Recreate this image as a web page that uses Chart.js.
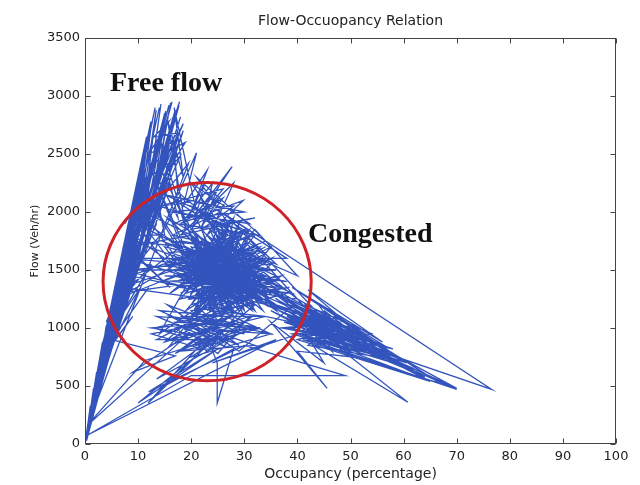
<!DOCTYPE html>
<html>
<head>
<meta charset="utf-8">
<title>Flow-Occupancy Relation</title>
<script src="https://cdn.jsdelivr.net/npm/chart.js@4/dist/chart.umd.min.js"></script>
<style>
  html, body { margin: 0; padding: 0; background: #fff; }
  #wrap { width: 640px; height: 485px; }
</style>
</head>
<body>
<div id="wrap"><canvas id="flowChart" width="640" height="485"></canvas></div>
<script>
// axis ticks
const occupancyTicks = [0, 10, 20, 30, 40, 50, 60, 70, 80, 90, 100];
const flowTicks = [0, 500, 1000, 1500, 2000, 2500, 3000, 3500];

// detector samples as [occupancy %, flow veh/hr], in time order
const morningFreeFlow = [
  [0,0],[0.4,110],[0.2,50],[1.0,280],[0.5,130],[1.8,460],[0.9,240],[2.6,700],[1.4,380],[3.3,880],
  [2.0,480],[2.9,760],[1.6,300],[4.0,1020],[2.6,560],[4.8,1180],[3.5,760],[5.6,1350],[4.2,900],[6.4,1520],
  [4.9,1050],[7.2,1700],[5.5,980],[8.1,1880],[6.1,1150],[9.0,2060],[6.7,1080],[9.9,2240],[7.3,1250],[10.8,2420],
  [7.9,1380],[11.7,2600],[8.5,1320],[12.5,2760],[9.2,1560],[13.4,2880],[9.8,1480],[14.3,2930],[10.5,1720],[15.2,2870],
  [11.2,1650],[16.1,2940],[11.9,1900],[16.9,2850],[12.6,2050],[17.7,2920],[13.3,2200],[18.5,2760],[14.0,2350],[16.5,2600],
  [12.0,2500],[15.8,2780],[13.0,2650],[17.4,2680],[14.5,2500],[18.9,2600],[15.5,2350],[17.9,2480],[14.8,2150],[19.5,2420]
];

const freeFlowSweeps = [
  [0.8,200],[13.2,2900],[2.5,450],[15.8,2920],[1.2,350],[11.0,2500],[3.6,620],[17.0,2880],[2.0,520],[9.0,2050],
  [4.6,750],[16.0,2600],[1.6,420],[12.4,2780],[3.8,800],[18.0,2820],[2.8,700],[10.5,2380],[5.2,850],[14.8,2450],
  [1.0,260],[14.0,2900],[4.2,900],[17.6,2650],[3.0,560],[12.0,2300],[5.8,950],[16.6,2800],[2.2,600],[10.0,2250],
  [6.2,1000],[18.5,2700],[3.4,880],[13.6,2600],[6.8,1100],[15.4,2300],[4.0,1000],[11.6,2650],[7.2,1150],[17.2,2500],
  [2.6,480],[8.8,1950],[5.0,1100],[16.4,2950],[3.2,780],[12.8,2450],[6.5,1200],[14.6,2700],[1.4,300],[9.6,2150],
  [7.5,1250],[15.0,2850],[4.8,1050],[13.0,2100],[8.0,1300],[11.4,2300],[5.6,1250],[17.8,2950],[3.7,900],[16.8,2550]
];

const breakdownOnset = [
  [17.5,2150],[21.0,2510],[18.5,2050],[23.0,2360],[19.8,1980],[22.5,2250],[20.5,1900],[27.7,2390],[21.5,2020],[24.9,2190],
  [22.0,1880],[26.0,2120],[18.0,1900],[29.8,2100],[23.0,1800],[25.5,2000],[16.5,1800],[24.0,1720],[15.5,1950],[22.5,1650],
  [17.0,2100],[27.0,1800],[19.0,1600],[30.5,1850],[21.0,1550],[28.5,1700],[16.0,1650],[26.0,1500],[14.5,1750],[24.5,1580],
  [20.0,2050],[32.0,1700]
];

const congestedCore = [
  [18.5,1450],[29.0,1350],[20.5,1750],[33.5,1550],[22.0,1300],[27.5,1650],[17.5,1350],[31.0,1450],[23.5,1150],[26.0,1750],
  [19.5,1250],[34.5,1400],[24.0,1550],[21.0,1100],[30.0,1600],[16.5,1500],[28.0,1250],[25.0,1850],[20.0,1400],[35.5,1300],
  [26.5,1400],[22.5,1700],[32.5,1250],[18.0,1600],[27.0,1150],[24.5,1450],[30.5,1750],[19.0,1150],[29.5,1450],[23.0,1600],
  [36.0,1200],[21.5,1500],[28.5,1850],[25.5,1250],[33.0,1450],[14.5,1400],[26.0,1600],[31.5,1150],[22.0,1450],[27.5,1950],
  [20.0,1300],[34.0,1600],[24.0,1300],[29.0,1550],[15.0,1700],[25.0,1100],[32.0,1500],[23.0,1400],[28.0,1700],[21.0,1250],
  [38.5,1350],[26.5,1250],[19.5,1550],[30.0,1300],[24.5,1750],[33.5,1150],[22.5,1550],[27.0,1450],[17.5,1550],[31.0,1650],
  [25.5,1500],[20.5,1150],[29.5,1250],[23.5,1850],[40.0,1250],[26.0,1350],[21.5,1650],[28.5,1400],[24.0,1150],[32.5,1600],
  [19.0,1450],[27.5,1550],[22.0,1200],[30.5,1500],[25.0,1650],[37.5,1200],[23.0,1500],[16.0,1300],[29.0,1800],[26.5,1150],
  [21.0,1600],[31.5,1350],[24.5,1400],[28.0,1100],[20.0,1700],[35.0,1500],[25.5,1550],[22.5,1350],[27.0,1700],[30.0,1150],
  [23.5,1450],[19.5,1350],[26.0,1800],[32.0,1400],[24.0,1650],[28.5,1300],[21.5,1400],[39.0,1150],[25.0,1300]
];

const pmCongestion = [
  [22,1600],[35,1350],[17,1500],[31,1800],[25,1200],[19,1900],[33,1300],[21,1400],[28,1950],[24,1100],
  [37,1450],[18,1250],[26,1700],[30,1200],[16,1750],[34,1650],[23,1300],[27,1500],[20,1650],[36,1150],
  [24,1800],[29,1400],[15,1550],[32,1350],[22,1750],[26,1150],[38,1300],[19,1500],[30,1700],[21,1200],
  [27,1850],[33,1500],[17,1700],[25,1400],[35,1600],[20,1100],[28,1550],[23,1950],[31,1250],[18,1350],
  [29,1650],[24,1450],[36,1400],[16,1600],[26,1300],[22,1850],[34,1200],[20,1550],[28,1450],[25,1750],
  [32,1150],[19,1700],[30,1450],[23,1250],[27,1600],[37,1250],[21,1800],[25,1350],[33,1700],[18,1450],
  [29,1200],[24,1900],[31,1550],[22,1150],[26,1550],[35,1250],[20,1800],[28,1250],[23,1650],[39,1300],
  [17,1400],[30,1600],[25,1150],[21,1700],[34,1450],[27,1300],[19,1600],[32,1800],[24,1350],[29,1900],
  [26,1450],[15,1450],[31,1400],[23,1700],[37,1350],[22,1400],[28,1600],[20,1250],[33,1400],[26,1900],
  [24,1250],[30,1850],[18,1550],[27,1250],[35,1700],[21,1350],[25,1600],[32,1300],[19,1800],[29,1350],
  [23,1550],[36,1500],[20,1450],[28,1750],[25,1450],[31,1600],[22,1300],[34,1350],[26,1650],[17,1600],
  [30,1400],[24,1550],[38,1400],[21,1500],[27,1400],[23,1150],[33,1600],[19,1400],[29,1500],[25,1850],
  [32,1450],[22,1500],[28,1350],[20,1600],[35,1400],[26,1250],[24,1750],[30,1250],[18,1650],[27,1650],
  [31,1300],[23,1350],[29,1750],[21,1450],[36,1300],[25,1550]
];

const lateCore = [
  [25,1300],[33,1500],[19,1300],[28,1800],[22,1150],[31,1650],[18,1750],[27,1200],[34,1300],[21,1550],
  [29,1150],[24,1700],[36,1450],[20,1200],[26,1650],[32,1200],[17,1450],[30,1550],[23,1250],[27,1900],
  [35,1200],[22,1650],[28,1150],[19,1650],[33,1350],[25,1550],[30,1100],[21,1300],[26,1500],[34,1700],
  [18,1300],[29,1600],[24,1200],[31,1850],[20,1500],[27,1350],[37,1300],[23,1800],[28,1500],[16,1550],
  [32,1650],[25,1200],[22,1500],[35,1550],[26,1150],[20,1350],[30,1700],[24,1600],[33,1250],[27,1550],
  [21,1750],[29,1300],[23,1450],[31,1200]
];

const shoulderLinks = [
  [7.0,1350],[20,1550],[8.0,1600],[22,1400],[6.5,1300],[18,1700],[9.0,1750],[24,1500],[7.5,1500],[19,1350],
  [8.5,1450],[21,1650],[6.0,1250],[17,1450],[9.5,1900],[23,1600],[10,1600],[16,1350],[8.0,1700],[20,1800],
  [11,2000],[18,1550],[9.0,1500],[15,1850]
];

const upperLattice = [
  [18,2150],[26,1850],[20,2250],[31,1900],[16,2000],[28,2050],[22,1850],[24,2250],[19,1950],[30,2000],
  [15,2150],[27,1900],[21,2300],[33,1800],[17,1900],[25,2100],[23,1950],[29,1850],[14,2050],[26,2200],
  [20,1850],[32,1950],[18,1800],[28,2250],[24,1850],[22,2100],[34,1750],[26,1600],[38,1600],[28,1900],
  [36,1550],[30,1650],[40,1450],[32,1850],[30,1750]
];

const queueSpread = [
  [41,1200],[50,900],[38,1250],[53,830],[40,1150],[47,950],[36,1300],[56,850],[42,1100],[49,1000],
  [39,1200],[58,780],[44,1000],[37,1250],[52,950],[43,1150],[60,720],[41,1050],[48,850],[40,1250],
  [54,880],[45,950],[38,1100],[62,650],[43,950],[50,850],[36,1200],[46,1050],[64,580],[42,1000],
  [51,920],[39,1150],[55,760],[44,900],[47,1100],[67,520],[41,900],[53,800],[38,1050],[49,950],
  [45,1150],[58,700],[40,950],[46,880],[35,1150],[52,780],[43,1050],[60.6,710],[42,850],[48,1050],
  [37,1000],[57,830],[44,1200],[50,800],[39,950],[46,980],[34,1100]
];

const lowerSpread = [
  [16,900],[27,1150],[13,1000],[24,850],[30,1200],[18,800],[26,1100],[14,1150],[29,850],[21,1100],
  [33,1000],[17,1050],[25,780],[31,1100],[15,880],[23,1200],[35,950],[19,1000],[28,1100],[12.5,950],
  [22,820],[32,1200],[20,1150],[26,880],[16,1100],[30,1000],[18,1100],[34,1100],[24,1150],[13.5,900],
  [27,900],[21,1200],[29,1050],[17,780],[25,1050]
];

const middaySwings = [
  [13.0,2300],[20.0,1500],[11.5,2150],[18.0,1700],[10.0,1950],[16.5,1550],[9.0,1800],[15.0,1800],[12.5,2400],[17.5,1950],
  [14.0,2650],[19.0,1850],[15.5,2800],[18.5,2300],[16.8,2900],[20.5,2100],[14.5,2050],[11.0,1600],[16.0,2250],[8.5,1400],
  [13.5,1900],[7.0,1250],[12.5,1550],[6.0,1050],[10.5,1350],[5.0,850],[9.0,1100],[4.0,800],[8.0,1500],[5.5,1200],
  [10.0,2100],[7.5,1900],[13.5,2450],[22.0,1600]
];

const lowerCluster = [
  [14.0,950],[22.0,1200],[16.0,850],[27.0,1050],[13.5,1100],[24.0,900],[18.5,1050],[30.0,950],[15.5,1200],[26.0,850],
  [19.0,950],[33.0,1000],[21.0,850],[28.5,1150],[17.0,1000],[23.0,800],[31.5,1100],[20.0,750],[35.0,950],[24.5,1050],
  [12.5,1000],[27.5,900],[18.0,800],[32.0,850],[22.5,1000],[29.0,800]
];

const queueTail = [
  [38.0,1150],[47.0,900],[36.0,1250],[52.0,850],[37.0,1100],[55.0,800],[34.0,1200],[45.5,1050],[39.0,1000],[60.6,700],
  [37.5,1050],[50.0,950],[35.5,1300],[48.0,1000],[40.0,900],[65.0,540],[41.0,950],[53.0,900],[38.5,1200],[44.0,1100],
  [57.0,760],[40.5,1050],[49.5,850],[36.5,1150],[70.0,470],[42.0,900],[51.0,1000],[39.5,1100],[46.5,800],[41.5,1200],
  [54.0,950],[43.0,850],[60.8,360],[44.5,950],[38.0,1000],[58.0,820],[42.5,1050],[48.5,900],[26.7,1970],[76.6,470],
  [55.5,800],[42.0,1330],[56.0,880],[39.0,1350],[60.6,700],[44.0,1080],[65.0,540],[47.5,950],[70.0,480],[37.0,1300],
  [45.0,700],[35.0,1050],[45.6,480],[40.0,800],[50.5,750],[43.5,1000]
];

const eveningRecovery = [
  [24.0,700],[36.0,900],[0.6,80],[20.0,590],[49.0,590],[30.0,850],[12.0,450],[25.0,820],[10.0,353],[21.0,760],
  [11.9,353],[23.0,920],[24.9,700],[24.9,353],[28.0,820],[15.0,500],[26.0,980],[13.5,560],[31.0,1000],[11.3,720],
  [0.4,160],[19.8,960],[9.0,620],[17.0,760],[5.0,900],[12.0,1350],[3.5,800],[9.0,1600],[4.0,1050],[7.5,1450],
  [2.5,650],[6.0,1300],[2.0,560],[5.0,1200],[1.5,430],[4.0,950],[1.0,300],[3.0,750],[0.7,200],[2.2,620],
  [0.5,110],[1.6,480],[0.3,60],[1.0,330],[0.1,20],[0.6,190],[0,0]
];

const nightFlow = [
  [0.2,40],[2.8,650],[0.6,120],[3.2,700],[0.9,200],[3.0,520],[0.4,80],[3.6,800],[1.2,250],[4.0,700],
  [0.7,180],[4.2,880],[1.5,300],[5.0,860],[0.3,90],[2.6,600],[1.8,360],[4.5,950],[1.1,300],[3.4,740],
  [0.3,30],[3.8,640],[1.0,150],[4.6,760],[2.0,330],[5.5,900],[0.5,150],[2.2,500],[0,0]
];

const samples = [].concat(
  morningFreeFlow, freeFlowSweeps, breakdownOnset, congestedCore, pmCongestion, lateCore, shoulderLinks,
  upperLattice, queueSpread, lowerSpread, middaySwings, lowerCluster, queueTail, eveningRecovery, nightFlow
).map(p => ({x: p[0], y: p[1]}));

const chartTitle = 'Flow-Occuopancy Relation';

// ring around the congested regime and the two regime labels (data units)
const ring = {occupancy: 23, flow: 1400, occRadius: 19.6, flowRadius: 855};
const notes = [
  {text: 'Free flow', occupancy: 4.7, flow: 3040},
  {text: 'Congested', occupancy: 42.0, flow: 1740}
];

const boxAndNotes = {
  id: 'boxAndNotes',
  afterDatasetsDraw(chart) {
    const {ctx, chartArea: a, scales: {x, y}} = chart;
    ctx.save();

    // red ring
    const cx = x.getPixelForValue(ring.occupancy);
    const cy = y.getPixelForValue(ring.flow);
    const rx = x.getPixelForValue(ring.occupancy + ring.occRadius) - cx;
    const ry = cy - y.getPixelForValue(ring.flow + ring.flowRadius);
    ctx.strokeStyle = 'rgb(206,34,40)';
    ctx.lineWidth = 3;
    ctx.beginPath();
    ctx.ellipse(cx, cy, rx, ry, 0, 0, Math.PI * 2);
    ctx.stroke();

    // regime labels
    ctx.fillStyle = '#111';
    ctx.font = 'bold 28px "Liberation Serif", "DejaVu Serif", serif';
    ctx.textAlign = 'left';
    ctx.textBaseline = 'alphabetic';
    notes.forEach(n => ctx.fillText(n.text, x.getPixelForValue(n.occupancy), y.getPixelForValue(n.flow)));

    // title centred over the plot box
    ctx.fillStyle = '#222';
    ctx.font = '14px "DejaVu Sans", sans-serif';
    ctx.textAlign = 'center';
    ctx.textBaseline = 'middle';
    ctx.fillText(chartTitle, (a.left + a.right) / 2, 21);

    // axes box with inward ticks on all four sides
    ctx.strokeStyle = '#444';
    ctx.lineWidth = 1;
    const l = Math.round(a.left) + 0.5, r = Math.round(a.right) - 0.5;
    const t = Math.round(a.top) + 0.5, b = Math.round(a.bottom) - 0.5;
    ctx.strokeRect(l, t, r - l, b - t);
    ctx.beginPath();
    occupancyTicks.forEach(v => {
      const px = Math.round(x.getPixelForValue(v)) + 0.5;
      ctx.moveTo(px, b); ctx.lineTo(px, b - 5);
      ctx.moveTo(px, t); ctx.lineTo(px, t + 5);
    });
    flowTicks.forEach(v => {
      const py = Math.round(y.getPixelForValue(v)) + 0.5;
      ctx.moveTo(l, py); ctx.lineTo(l + 5, py);
      ctx.moveTo(r, py); ctx.lineTo(r - 5, py);
    });
    ctx.stroke();
    ctx.restore();
  }
};

const tickFont = {family: '"DejaVu Sans", sans-serif', size: 13};

new Chart(document.getElementById('flowChart').getContext('2d'), {
  type: 'scatter',
  data: {
    datasets: [{
      data: samples,
      showLine: true,
      borderColor: 'rgb(50,84,188)',
      borderWidth: 1.3,
      pointRadius: 0,
      tension: 0
    }]
  },
  options: {
    responsive: false,
    animation: false,
    devicePixelRatio: 1,
    layout: {padding: {left: 0, right: 24, top: 38, bottom: 0}},
    plugins: {
      legend: {display: false},
      tooltip: {enabled: false},
      title: {display: false}
    },
    scales: {
      x: {
        type: 'linear',
        min: occupancyTicks[0],
        max: occupancyTicks[occupancyTicks.length - 1],
        afterBuildTicks: s => { s.ticks = occupancyTicks.map(v => ({value: v})); },
        afterFit: s => { s.height = 41; },
        grid: {display: false, drawTicks: false},
        border: {display: false},
        ticks: {color: '#222', font: tickFont, padding: 5, maxRotation: 0, autoSkip: false, callback: v => String(v)},
        title: {
          display: true,
          text: 'Occupancy (percentage)',
          color: '#222',
          font: {family: '"DejaVu Sans", sans-serif', size: 14},
          padding: {top: 0, bottom: 2}
        }
      },
      y: {
        type: 'linear',
        min: flowTicks[0],
        max: flowTicks[flowTicks.length - 1],
        afterBuildTicks: s => { s.ticks = flowTicks.map(v => ({value: v})); },
        afterFit: s => { s.width = 85; },
        grid: {display: false, drawTicks: false},
        border: {display: false},
        ticks: {color: '#222', font: tickFont, padding: 5, autoSkip: false, callback: v => String(v)},
        title: {
          display: true,
          text: 'Flow (Veh/hr)',
          color: '#222',
          font: {family: '"DejaVu Sans", sans-serif', size: 11},
          padding: {top: 29, bottom: 0}
        }
      }
    }
  },
  plugins: [boxAndNotes]
});
</script>
</body>
</html>
